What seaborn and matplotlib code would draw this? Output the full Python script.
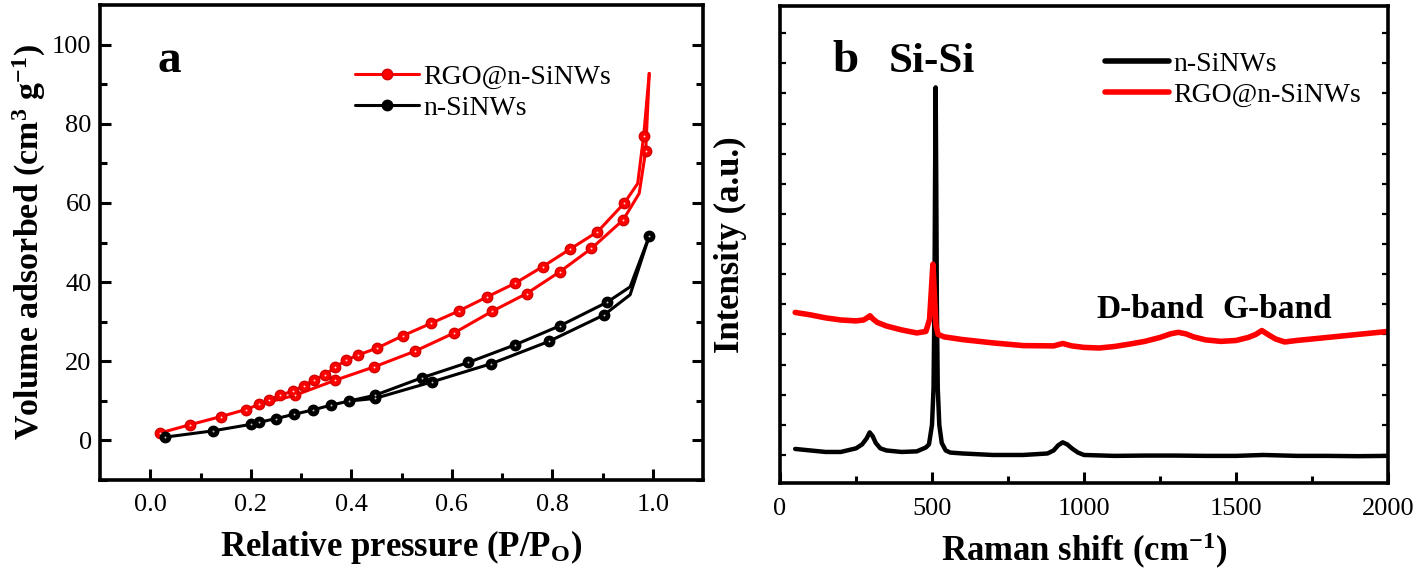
import matplotlib
matplotlib.use("Agg")
import matplotlib.pyplot as plt
import seaborn as sns
import numpy as np
import pandas as pd
from matplotlib.ticker import MultipleLocator, FixedLocator, NullFormatter
from matplotlib.lines import Line2D

# ---------------- Panel a: N2 adsorption/desorption isotherms ----------------
rgo_ads_p = [0.020, 0.080, 0.140, 0.190, 0.217, 0.288, 0.368, 0.446, 0.526, 0.604,
             0.680, 0.749, 0.815, 0.878, 0.941, 0.973, 0.986, 0.993]
rgo_ads_v = [1.9, 4.0, 6.0, 7.8, 9.1, 11.4, 15.2, 18.6, 22.5, 27.1,
             32.6, 37.1, 42.6, 48.5, 55.7, 62.4, 73.2, 92.7]
rgo_ads_mark = [0, 1, 2, 3, 4, 5, 6, 7, 8, 9, 10, 11, 12, 13, 14, 16]

rgo_des_p = [0.993, 0.982, 0.970, 0.943, 0.890, 0.835, 0.781, 0.726, 0.671, 0.614,
             0.559, 0.502, 0.451, 0.414, 0.389, 0.368, 0.347, 0.326, 0.306, 0.284,
             0.259, 0.237]
rgo_des_v = [92.7, 77.0, 64.9, 59.9, 52.7, 48.3, 43.9, 39.7, 36.3, 32.7,
             29.6, 26.4, 23.3, 21.6, 20.2, 18.5, 16.5, 15.3, 13.8, 12.5,
             11.4, 10.3]
rgo_des_mark = [1, 3, 4, 5, 6, 7, 8, 9, 10, 11, 12, 13, 14, 15, 16, 17, 18, 19, 20, 21]

si_ads_p = [0.030, 0.124, 0.200, 0.217, 0.250, 0.286, 0.324, 0.359, 0.396, 0.447,
            0.561, 0.679, 0.793, 0.903, 0.955, 0.993]
si_ads_v = [0.84, 2.4, 4.05, 4.6, 5.5, 6.6, 7.7, 8.9, 9.95, 10.6,
            14.8, 19.4, 25.0, 31.7, 36.8, 51.6]
si_ads_mark = [0, 1, 2, 3, 4, 5, 6, 7, 8, 9, 10, 11, 12, 13, 15]

si_des_p = [0.993, 0.955, 0.909, 0.816, 0.725, 0.633, 0.540, 0.447, 0.396]
si_des_v = [51.6, 38.8, 34.9, 29.0, 24.1, 19.7, 15.8, 11.4, 9.95]
si_des_mark = [2, 3, 4, 5, 6, 7]

# ---------------- Panel b: Raman spectra (intensity in a.u.) ----------------
si_raman_x = [50, 100, 150, 200, 250, 270, 285, 295, 305, 315, 330, 350, 400, 450, 480, 490,
              500, 505, 508, 510, 512, 514, 516, 519, 524, 532, 545, 560, 600, 700,
              800, 880, 900, 915, 930, 945, 960, 980, 1000, 1100, 1200, 1300, 1400, 1500,
              1590, 1700, 1800, 1900, 2000]
si_raman_y = [1.20, 1.15, 1.10, 1.10, 1.22, 1.35, 1.55, 1.75, 1.62, 1.40, 1.22, 1.15, 1.10, 1.12,
              1.25, 1.35, 2.00, 3.20, 6.00, 10.0, 13.2, 10.0, 6.00, 3.20, 2.00, 1.40, 1.15, 1.08,
              1.05, 1.00, 1.00, 1.05, 1.15, 1.32, 1.42, 1.35, 1.22, 1.08, 1.00, 0.97, 0.98, 0.98,
              0.97, 0.97, 1.00, 0.97, 0.97, 0.96, 0.97]

rgo_raman_x = [50, 100, 150, 200, 250, 275, 288, 296, 305, 320, 350, 400, 450, 480, 492, 498,
               503, 508, 513, 520, 540, 600, 700, 800, 900, 930, 960, 1000, 1050, 1100,
               1150, 1200, 1250, 1285, 1310, 1335, 1360, 1400, 1450, 1500, 1540, 1565, 1585,
               1605, 1630, 1660, 1700, 1800, 1900, 2000]
rgo_raman_y = [5.73, 5.65, 5.55, 5.48, 5.45, 5.48, 5.56, 5.62, 5.52, 5.40, 5.28, 5.15, 5.05,
               5.10, 5.50, 6.50, 7.33, 6.30, 5.30, 5.00, 4.92, 4.83, 4.72, 4.63, 4.62, 4.70,
               4.62, 4.57, 4.55, 4.60, 4.68, 4.77, 4.90, 5.02, 5.07, 5.02, 4.92, 4.82, 4.77,
               4.80, 4.90, 5.00, 5.13, 5.00, 4.85, 4.75, 4.80, 4.90, 5.00, 5.10]

RED = "#ff0000"
BLACK = "#000000"

sns.set_style("ticks")
plt.rcParams["font.family"] = ["Liberation Serif", "DejaVu Serif"]
plt.rcParams["mathtext.fontset"] = "custom"
plt.rcParams["mathtext.rm"] = "Liberation Serif"
plt.rcParams["mathtext.bf"] = "Liberation Serif:bold"
plt.rcParams["mathtext.it"] = "Liberation Serif:italic"
for k in ["axes.edgecolor", "xtick.color", "ytick.color", "text.color",
          "axes.labelcolor", "xtick.labelcolor", "ytick.labelcolor"]:
    plt.rcParams[k] = "black"

fig = plt.figure(figsize=(14.18, 5.71), dpi=100)
W, H = 1418.0, 571.0
axa = fig.add_axes([100 / W, 1 - 480 / H, 603 / W, 475 / H])
axb = fig.add_axes([780 / W, 1 - 483 / H, 608 / W, 477 / H])

SPINE_W = 2.6
TICK_FS = 19
LAB_FS = 25
LW_A = 2.2


def branch(ax, p, v, mark, color, edge):
    sns.lineplot(x=p, y=v, sort=False, estimator=None, color=color, lw=LW_A,
                 marker="o", markersize=7.5, markevery=mark,
                 markerfacecolor=color, markeredgecolor=edge, markeredgewidth=1.0,
                 ax=ax)
    sns.scatterplot(x=[p[i] for i in mark], y=[v[i] for i in mark], s=2,
                    color="#ffd0d0" if color == RED else "#c0c0c0", linewidth=0,
                    ax=ax, zorder=5)


branch(axa, rgo_ads_p, rgo_ads_v, rgo_ads_mark, RED, "#d40000")
branch(axa, rgo_des_p, rgo_des_v, rgo_des_mark, RED, "#d40000")
branch(axa, si_ads_p, si_ads_v, si_ads_mark, BLACK, "#000000")
branch(axa, si_des_p, si_des_v, si_des_mark, BLACK, "#000000")

axa.set_xlim(-0.1, 1.1)
axa.set_ylim(-10, 110)
axa.xaxis.set_major_locator(FixedLocator([0.0, 0.2, 0.4, 0.6, 0.8, 1.0]))
axa.xaxis.set_minor_locator(FixedLocator([0.1, 0.3, 0.5, 0.7, 0.9]))
axa.yaxis.set_major_locator(FixedLocator([0, 20, 40, 60, 80, 100]))
axa.yaxis.set_minor_locator(FixedLocator([-10, 10, 30, 50, 70, 90]))
axa.set_xticklabels(["0.0", "0.2", "0.4", "0.6", "0.8", "1.0"])
axa.tick_params(axis="both", which="both", direction="in", width=2.2,
                labelsize=TICK_FS, top=False, right=True)
axa.tick_params(axis="both", which="major", length=8)
axa.tick_params(axis="both", which="minor", length=5)
axa.tick_params(axis="x", pad=10)
axa.tick_params(axis="y", pad=6)
for s in axa.spines.values():
    s.set_linewidth(SPINE_W)

axa.set_xlabel(r"Relative pressure (P/P$_\mathbf{O}$)", fontsize=LAB_FS, fontweight="bold")
axa.set_ylabel(r"Volume adsorbed (cm$^\mathbf{3}$ g$^\mathbf{-1}$)", fontsize=24.5,
               fontweight="bold")
axa.xaxis.set_label_coords(0.5, -0.10)
axa.yaxis.set_label_coords(-0.087, 0.50)

axa.text(0.096, 0.86, "a", transform=axa.transAxes, fontsize=34, fontweight="bold",
         va="baseline", ha="left")

ha_red = Line2D([], [], color=RED, lw=LW_A, marker="o", markersize=7.5,
                markerfacecolor=RED, markeredgecolor="#d40000")
ha_blk = Line2D([], [], color=BLACK, lw=LW_A, marker="o", markersize=7.5,
                markerfacecolor=BLACK, markeredgecolor=BLACK)
axa.legend([ha_red, ha_blk], ["RGO@n-SiNWs", "n-SiNWs"], loc="upper left",
           bbox_to_anchor=(0.423, 0.875), frameon=False, fontsize=20,
           handlelength=2.3, handletextpad=0.15, labelspacing=0.2,
           borderaxespad=0, borderpad=0)

# ---------------- Panel b ----------------
sns.lineplot(x=si_raman_x, y=si_raman_y, sort=False, estimator=None, color=BLACK,
             lw=3.2, ax=axb)
sns.lineplot(x=rgo_raman_x, y=rgo_raman_y, sort=False, estimator=None, color=RED,
             lw=4.0, ax=axb)

axb.set_xlim(0, 2000)
axb.set_ylim(0.07, 15.9)
axb.xaxis.set_major_locator(MultipleLocator(500))
axb.xaxis.set_minor_locator(MultipleLocator(250))
axb.yaxis.set_major_locator(MultipleLocator(1))
axb.yaxis.set_major_formatter(NullFormatter())
axb.tick_params(axis="x", which="both", direction="in", width=2.2, labelsize=TICK_FS,
                top=False, pad=11)
axb.tick_params(axis="x", which="major", length=8)
axb.tick_params(axis="x", which="minor", length=5)
axb.tick_params(axis="y", which="major", direction="in", width=1.6, length=4,
                left=True, right=True)
for s in axb.spines.values():
    s.set_linewidth(SPINE_W)

axb.set_xlabel(r"Raman shift (cm$^\mathbf{-1}$)", fontsize=LAB_FS, fontweight="bold")
axb.set_ylabel("Intensity (a.u.)", fontsize=LAB_FS, fontweight="bold")
axb.xaxis.set_label_coords(0.5, -0.10)
axb.yaxis.set_label_coords(-0.055, 0.50)

axb.text(0.087, 0.862, "b", transform=axb.transAxes, fontsize=34, fontweight="bold",
         va="baseline", ha="left")
axb.text(0.178, 0.862, "Si-Si", transform=axb.transAxes, fontsize=31, fontweight="bold",
         va="baseline", ha="left")
axb.text(0.52, 0.346, "D-band", transform=axb.transAxes, fontsize=24, fontweight="bold",
         va="baseline", ha="left")
axb.text(0.727, 0.346, "G-band", transform=axb.transAxes, fontsize=24, fontweight="bold",
         va="baseline", ha="left")

hb_blk = Line2D([], [], color=BLACK, lw=4)
hb_red = Line2D([], [], color=RED, lw=4)
axb.legend([hb_blk, hb_red], ["n-SiNWs", "RGO@n-SiNWs"], loc="upper left",
           bbox_to_anchor=(0.535, 0.905), frameon=False, fontsize=20,
           handlelength=2.3, handletextpad=0.15, labelspacing=0.2,
           borderaxespad=0, borderpad=0)

fig.savefig("out.png", dpi=100)
